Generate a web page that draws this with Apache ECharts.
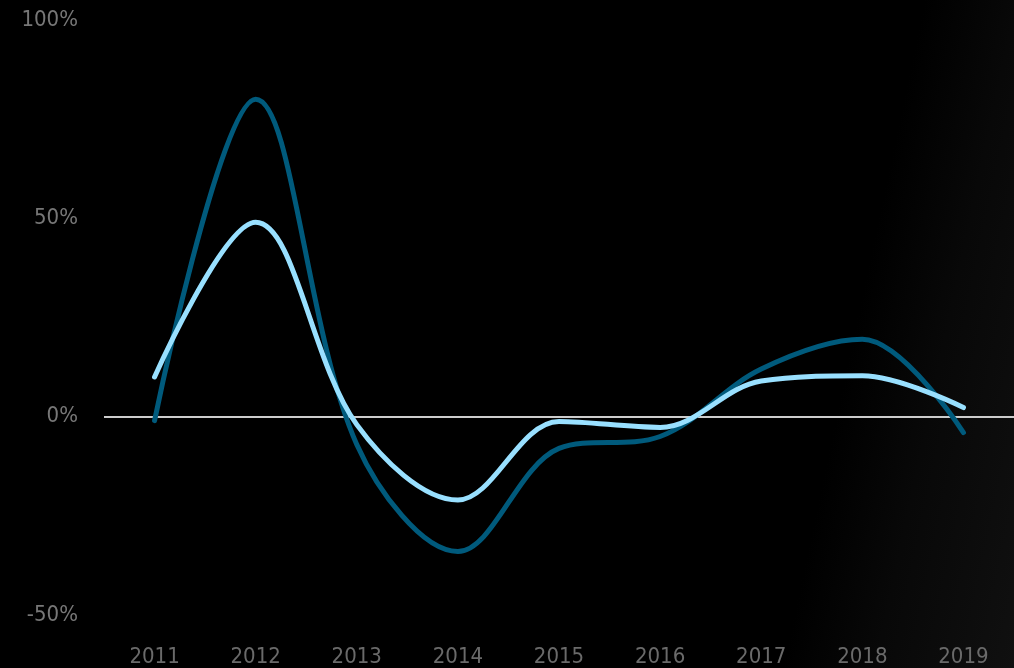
<!DOCTYPE html>
<html lang="en">
<head>
    <meta charset="UTF-8">
    <title>chart</title>
    <script src="https://cdn.jsdelivr.net/npm/echarts@6/dist/echarts.min.js"></script>
    <style>
        html, body { margin: 0; padding: 0; background: #000; }
        #main {
            width: 1014px; height: 668px;
            background: linear-gradient(102deg, #000000 0%, #000000 80%, #080808 88%, #101010 100%);
        }
    </style>
</head>
<body>
<div id="main"></div>
<script>
    // years on the x axis
    var years = ['2011', '2012', '2013', '2014', '2015', '2016', '2017', '2018', '2019'];
    // dark blue series (%)
    var darkValues = [-1, 80, -7, -34, -8, -5, 12, 19.5, -4];
    // light blue series (%)
    var lightValues = [10, 49, -2, -21, -1.2, -2.7, 9, 10.3, 2.3];
    var yTicks = [-50, 0, 50, 100];

    var myChart = echarts.init(document.getElementById('main'));
    var labelFont = '"Liberation Sans Narrow", "DejaVu Sans Condensed", sans-serif';

    var option = {
        animation: false,
        backgroundColor: 'transparent',
        grid: { left: 104, right: -1, top: 20, bottom: 51 },
        xAxis: {
            type: 'category',
            data: years,
            boundaryGap: true,
            axisLine: { show: false },
            axisTick: { show: false },
            axisLabel: {
                color: '#6a6a6a',
                fontSize: 22,
                fontFamily: labelFont,
                margin: 31
            }
        },
        yAxis: {
            type: 'value',
            min: yTicks[0],
            max: yTicks[yTicks.length - 1],
            interval: 50,
            axisLine: { show: false },
            axisTick: { show: false },
            splitLine: { show: false },
            axisLabel: {
                color: '#777777',
                fontSize: 22,
                fontFamily: labelFont,
                margin: 26,
                formatter: '{value}%'
            }
        },
        series: [
            {
                name: 'dark',
                type: 'line',
                data: darkValues,
                smooth: 0.35,
                symbol: 'none',
                z: 3,
                lineStyle: { color: '#005a7c', width: 5, cap: 'round' },
                markLine: {
                    silent: true,
                    symbol: 'none',
                    label: { show: false },
                    lineStyle: { color: '#cccccc', width: 2, type: 'solid' },
                    data: [{ yAxis: 0 }],
                    z: 1
                }
            },
            {
                name: 'light',
                type: 'line',
                data: lightValues,
                smooth: 0.35,
                symbol: 'none',
                z: 4,
                lineStyle: { color: '#99e0ff', width: 5, cap: 'round' }
            }
        ]
    };
    myChart.setOption(option);
</script>
</body>
</html>
